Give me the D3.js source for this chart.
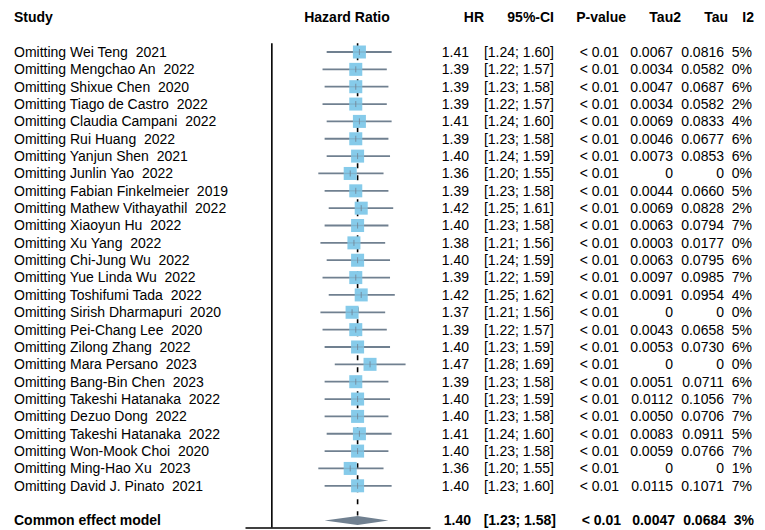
<!DOCTYPE html>
<html>
<head>
<meta charset="utf-8">
<script src="https://cdn.jsdelivr.net/npm/d3@7"></script>
<style>
  html, body { margin: 0; padding: 0; background: #fff; }
  svg text { font-family: "Liberation Sans", Arial, sans-serif; white-space: pre; }
</style>
</head>
<body>
<svg id="chart" width="765" height="530"></svg>
<script>
// Leave-one-out sensitivity analysis: pooled hazard ratio after omitting each study
const studies = ["Wei Teng", "Mengchao An", "Shixue Chen", "Tiago de Castro", "Claudia Campani",
  "Rui Huang", "Yanjun Shen", "Junlin Yao", "Fabian Finkelmeier", "Mathew Vithayathil",
  "Xiaoyun Hu", "Xu Yang", "Chi-Jung Wu", "Yue Linda Wu", "Toshifumi Tada",
  "Sirish Dharmapuri", "Pei-Chang Lee", "Zilong Zhang", "Mara Persano", "Bang-Bin Chen",
  "Takeshi Hatanaka", "Dezuo Dong", "Takeshi Hatanaka", "Won-Mook Choi", "Ming-Hao Xu",
  "David J. Pinato"];
const years = [2021, 2022, 2020, 2022, 2022, 2022, 2021, 2022, 2019, 2022,
  2022, 2022, 2022, 2022, 2022, 2020, 2020, 2022, 2023, 2023,
  2022, 2022, 2022, 2020, 2023, 2021];
const hr = [1.41, 1.39, 1.39, 1.39, 1.41, 1.39, 1.40, 1.36, 1.39, 1.42,
  1.40, 1.38, 1.40, 1.39, 1.42, 1.37, 1.39, 1.40, 1.47, 1.39,
  1.40, 1.40, 1.41, 1.40, 1.36, 1.40];
const lower = [1.24, 1.22, 1.23, 1.22, 1.24, 1.23, 1.24, 1.20, 1.23, 1.25,
  1.23, 1.21, 1.24, 1.22, 1.25, 1.21, 1.22, 1.23, 1.28, 1.23,
  1.23, 1.23, 1.24, 1.23, 1.20, 1.23];
const upper = [1.60, 1.57, 1.58, 1.57, 1.60, 1.58, 1.59, 1.55, 1.58, 1.61,
  1.58, 1.56, 1.59, 1.59, 1.62, 1.56, 1.57, 1.59, 1.69, 1.58,
  1.59, 1.58, 1.60, 1.58, 1.55, 1.60];
const pvalue = Array(26).fill("< 0.01");
const tau2 = ["0.0067", "0.0034", "0.0047", "0.0034", "0.0069", "0.0046", "0.0073", "0", "0.0044", "0.0069",
  "0.0063", "0.0003", "0.0063", "0.0097", "0.0091", "0", "0.0043", "0.0053", "0", "0.0051",
  "0.0112", "0.0050", "0.0083", "0.0059", "0", "0.0115"];
const tau = ["0.0816", "0.0582", "0.0687", "0.0582", "0.0833", "0.0677", "0.0853", "0", "0.0660", "0.0828",
  "0.0794", "0.0177", "0.0795", "0.0985", "0.0954", "0", "0.0658", "0.0730", "0", "0.0711",
  "0.1056", "0.0706", "0.0911", "0.0766", "0", "0.1071"];
const i2 = ["5%", "0%", "6%", "2%", "4%", "6%", "6%", "0%", "5%", "2%",
  "7%", "0%", "6%", "7%", "4%", "0%", "5%", "6%", "0%", "6%",
  "7%", "7%", "5%", "7%", "1%", "7%"];

// Common effect model
const pooled = { label: "Common effect model", hr: 1.40, lower: 1.23, upper: 1.58,
  pvalue: "< 0.01", tau2: "0.0047", tau: "0.0684", i2: "3%" };

const headers = ["HR", "95%-CI", "P-value", "Tau2", "Tau", "I2"];

const fmt2 = d3.format(".2f");
const ciText = (l, u) => "[" + fmt2(l) + "; " + fmt2(u) + "]";

const svg = d3.select("#chart");
const fontSize = 14;

// row positions: header row = -2, studies 0..25, pooled = 27
const y = d3.scaleLinear().domain([-2, 27]).range([17.3, 520.5]);
// forest panel, log scale
const x = d3.scaleLog().domain([0.9, 1.86]).range([245, 430]);
const axisY = 527.5;

// right edges of the statistic columns (headers / values)
const headRight = [484, 554, 626, 681, 728, 754];
const colRight = [469, 554, 619, 673, 724, 752];

const colSquare = "#86cbea";
const colLine = "#708090";

// headers
svg.append("text").attr("x", 14).attr("y", y(-2)).attr("dy", "0.35em")
  .attr("font-size", fontSize).attr("font-weight", "bold").text("Study");
svg.append("text").attr("x", 347).attr("y", y(-2)).attr("dy", "0.35em")
  .attr("text-anchor", "middle").attr("font-size", fontSize).attr("font-weight", "bold")
  .text("Hazard Ratio");
headers.forEach((h, k) => {
  svg.append("text").attr("x", headRight[k]).attr("y", y(-2)).attr("dy", "0.35em")
    .attr("text-anchor", "end").attr("font-size", fontSize).attr("font-weight", "bold").text(h);
});

// study labels
const rows = studies.map((s, i) => ({ i, s, year: years[i], hr: hr[i], lo: lower[i], up: upper[i],
  cols: [fmt2(hr[i]), ciText(lower[i], upper[i]), pvalue[i], tau2[i], tau[i], i2[i]] }));

svg.append("g").selectAll("text").data(rows).join("text")
  .attr("x", 14).attr("y", d => y(d.i)).attr("dy", "0.35em")
  .attr("font-size", fontSize)
  .text(d => "Omitting " + d.s + "  " + d.year);

// statistic columns
rows.forEach(d => {
  d.cols.forEach((t, k) => {
    svg.append("text").attr("x", colRight[k]).attr("y", y(d.i)).attr("dy", "0.35em")
      .attr("text-anchor", "end").attr("font-size", fontSize).text(t);
  });
});

// pooled row text
svg.append("text").attr("x", 14).attr("y", y(27)).attr("dy", "0.35em")
  .attr("font-size", fontSize).attr("font-weight", "bold").text(pooled.label);
[fmt2(pooled.hr), ciText(pooled.lower, pooled.upper), pooled.pvalue, pooled.tau2, pooled.tau, pooled.i2]
  .forEach((t, k) => {
    svg.append("text").attr("x", colRight[k] + 2).attr("y", y(27)).attr("dy", "0.35em")
      .attr("text-anchor", "end").attr("font-size", fontSize).attr("font-weight", "bold").text(t);
  });

// line of no effect
svg.append("line").attr("x1", x(1)).attr("x2", x(1))
  .attr("y1", y(-0.5)).attr("y2", axisY)
  .attr("stroke", "#000").attr("stroke-width", 1.6);

// pooled estimate reference line
svg.append("line").attr("x1", x(pooled.hr)).attr("x2", x(pooled.hr))
  .attr("y1", y(-0.5)).attr("y2", y(27) - 5)
  .attr("stroke", "#000").attr("stroke-width", 1.6).attr("stroke-dasharray", "5,7");

// confidence intervals
const g = svg.append("g");
g.selectAll("line.ci").data(rows).join("line").attr("class", "ci")
  .attr("x1", d => x(d.lo)).attr("x2", d => x(d.up))
  .attr("y1", d => y(d.i)).attr("y2", d => y(d.i))
  .attr("stroke", colLine).attr("stroke-width", 1.8);

// squares
const sq = 13;
g.selectAll("rect").data(rows).join("rect")
  .attr("x", d => x(d.hr) - sq / 2).attr("y", d => y(d.i) - sq / 2)
  .attr("width", sq).attr("height", sq).attr("fill", colSquare);

// interval line seen through the square, and estimate tick
g.selectAll("line.inside").data(rows).join("line").attr("class", "inside")
  .attr("x1", d => x(d.hr) - sq / 2).attr("x2", d => x(d.hr) + sq / 2)
  .attr("y1", d => y(d.i)).attr("y2", d => y(d.i))
  .attr("stroke", colLine).attr("stroke-opacity", 0.3).attr("stroke-width", 1.4);
g.selectAll("line.tick").data(rows).join("line").attr("class", "tick")
  .attr("x1", d => x(d.hr)).attr("x2", d => x(d.hr))
  .attr("y1", d => y(d.i) - 3).attr("y2", d => y(d.i) + 3)
  .attr("stroke", colLine).attr("stroke-opacity", 0.8).attr("stroke-width", 1);

// pooled diamond
const dy = 4.6;
svg.append("polygon")
  .attr("points", [
    [x(pooled.lower), y(27)], [x(pooled.hr), y(27) - dy],
    [x(pooled.upper), y(27)], [x(pooled.hr), y(27) + dy]
  ].map(p => p.join(",")).join(" "))
  .attr("fill", colLine);

// x axis line (tick labels fall below the visible area)
const axis = d3.axisBottom(x).tickValues([]).tickSizeOuter(0);
const ax = svg.append("g").attr("transform", `translate(0,${axisY})`).call(axis);
ax.select(".domain").attr("stroke", "#000").attr("stroke-width", 1.6);
</script>
</body>
</html>
